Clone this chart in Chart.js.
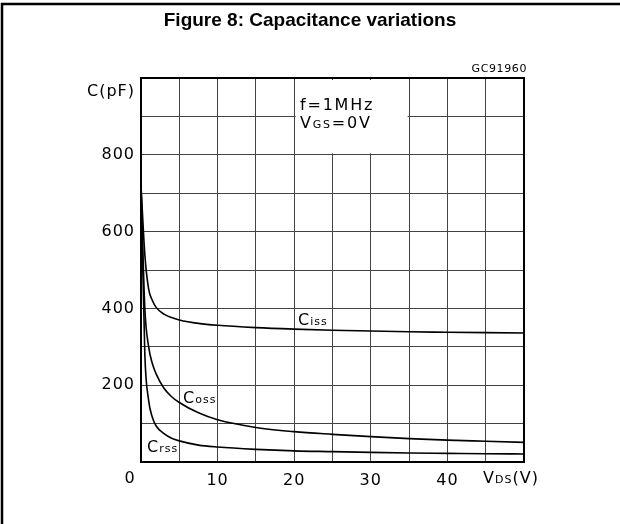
<!DOCTYPE html>
<html lang="en">
<head>
    <meta charset="UTF-8">
    <title>Figure 8: Capacitance variations</title>
    <script src="https://cdn.jsdelivr.net/npm/chart.js"></script>
    <style>
        body { margin: 0; background: #fff; }
    </style>
</head>
<body>
    <canvas id="myChart" width="620" height="524"></canvas>
    <script>
// datos
const vds = [0, 0.5, 1, 1.5, 2, 3, 4, 5, 7.5, 10, 15, 20, 25, 30, 35, 40, 45, 50];
const ciss = [720, 540, 450, 420, 402, 385, 376, 370, 361, 356, 350, 346, 343, 341, 339, 338, 337, 336];
const coss = [720, 400, 300, 255, 228, 192, 170, 155, 128, 110, 90, 79, 72, 66, 61, 57, 54, 51];
const crss = [720, 280, 160, 115, 93, 74, 62, 55, 44, 39, 33, 29, 27, 25, 23.5, 22.5, 21.5, 21];
const yLabels = [200, 400, 600, 800];
const xLabels = [10, 20, 30, 40];

const fuente = "'DejaVu Sans', sans-serif";

function puntos(valores) {
    return vds.map((v, i) => ({ x: v, y: valores[i] }));
}

function serie(nombre, valores) {
    return {
        label: nombre,
        data: puntos(valores),
        borderColor: "#000",
        borderWidth: 1.6,
        pointRadius: 0,
        cubicInterpolationMode: "monotone",
        fill: false
    };
}

// texto con subindice: partes = [[texto, tamaño], ...]
function textoSub(ctx, x, y, partes) {
    ctx.textAlign = "left";
    ctx.textBaseline = "alphabetic";
    partes.forEach(([t, tam]) => {
        ctx.font = tam + "px " + fuente;
        ctx.fillText(t, x, y);
        x += ctx.measureText(t).width;
    });
}

function anchoSub(ctx, partes) {
    let w = 0;
    partes.forEach(([t, tam]) => {
        ctx.font = tam + "px " + fuente;
        w += ctx.measureText(t).width;
    });
    return w;
}

const extras = {
    id: "extras",
    beforeDraw(chart) {
        chart.ctx.letterSpacing = "1px";
    },
    beforeDatasetsDraw(chart) {
        const { ctx, chartArea, scales } = chart;
        const x = scales.x, y = scales.y;
        ctx.save();
        // recuadro sin rejilla para las condiciones
        const x1 = x.getPixelForValue(20) + 1.5;
        const x2 = x.getPixelForValue(35) - 1.5;
        const y1 = chartArea.top + 2;
        const y2 = y.getPixelForValue(800) - 1.5;
        ctx.fillStyle = "#fff";
        ctx.fillRect(x1, y1, x2 - x1, y2 - y1);
        ctx.fillStyle = "#000";
        ctx.letterSpacing = "1.8px";
        textoSub(ctx, 300, 110, [["f=1MHz", 16]]);
        textoSub(ctx, 300, 128, [["V", 16], ["GS", 11], ["=0V", 16]]);
        ctx.restore();
    },
    afterDatasetsDraw(chart) {
        const { ctx, chartArea } = chart;
        ctx.save();
        ctx.strokeStyle = "#000";
        ctx.lineWidth = 2;
        ctx.strokeRect(chartArea.left, chartArea.top, chartArea.right - chartArea.left, chartArea.bottom - chartArea.top);

        // marco exterior
        ctx.lineWidth = 2.5;
        ctx.beginPath();
        ctx.moveTo(2, 524);
        ctx.lineTo(2, 4);
        ctx.lineTo(620, 4);
        ctx.stroke();

        // titulo
        ctx.letterSpacing = "0px";
        ctx.fillStyle = "#000";
        ctx.font = "bold 19px 'Liberation Sans', Arial, sans-serif";
        ctx.textAlign = "center";
        ctx.textBaseline = "alphabetic";
        ctx.fillText("Figure 8: Capacitance variations", 310, 26);

        ctx.letterSpacing = "1px";
        textoSub(ctx, 298, 325, [["C", 16], ["iss", 11]]);
        textoSub(ctx, 183, 403, [["C", 16], ["oss", 11]]);
        textoSub(ctx, 147, 452, [["C", 16], ["rss", 11]]);

        ctx.font = "16px " + fuente;
        ctx.textAlign = "right";
        ctx.textBaseline = "alphabetic";
        ctx.fillText("C(pF)", 135, 96);
        ctx.textAlign = "center";
        ctx.fillText("0", 130, 483);

        const vLab = [["V", 16], ["DS", 11], ["(V)", 16]];
        const w = anchoSub(ctx, vLab);
        textoSub(ctx, 511 - w / 2, 483, vLab);

        ctx.font = "11px " + fuente;
        ctx.letterSpacing = "0.6px";
        ctx.textAlign = "right";
        ctx.fillText("GC91960", 527, 72);
        ctx.restore();
    }
};

const config = {
    type: "line",
    data: {
        datasets: [serie("Ciss", ciss), serie("Coss", coss), serie("Crss", crss)]
    },
    options: {
        responsive: false,
        animation: false,
        layout: { padding: { left: 0, right: 96, top: 78, bottom: 0 } },
        plugins: {
            legend: { display: false },
            tooltip: { enabled: false },
            title: { display: false }
        },
        scales: {
            x: {
                type: "linear",
                min: 0,
                max: 50,
                afterFit(scale) { scale.height = 62; },
                border: { display: false },
                grid: { color: "#444", lineWidth: 1, drawTicks: false },
                ticks: {
                    stepSize: 5,
                    autoSkip: false,
                    maxRotation: 0,
                    padding: 9,
                    color: "#000",
                    font: { family: fuente, size: 16 },
                    callback: (v) => xLabels.includes(v) ? String(v) : ""
                }
            },
            y: {
                min: 0,
                max: 1000,
                afterFit(scale) { scale.width = 141; },
                border: { display: false },
                grid: { color: "#444", lineWidth: 1, drawTicks: false },
                ticks: {
                    stepSize: 100,
                    autoSkip: false,
                    padding: 6,
                    color: "#000",
                    font: { family: fuente, size: 16 },
                    callback: (v) => yLabels.includes(v) ? String(v) : ""
                }
            }
        }
    },
    plugins: [extras]
};

new Chart(document.getElementById("myChart"), config);
    </script>
</body>
</html>
